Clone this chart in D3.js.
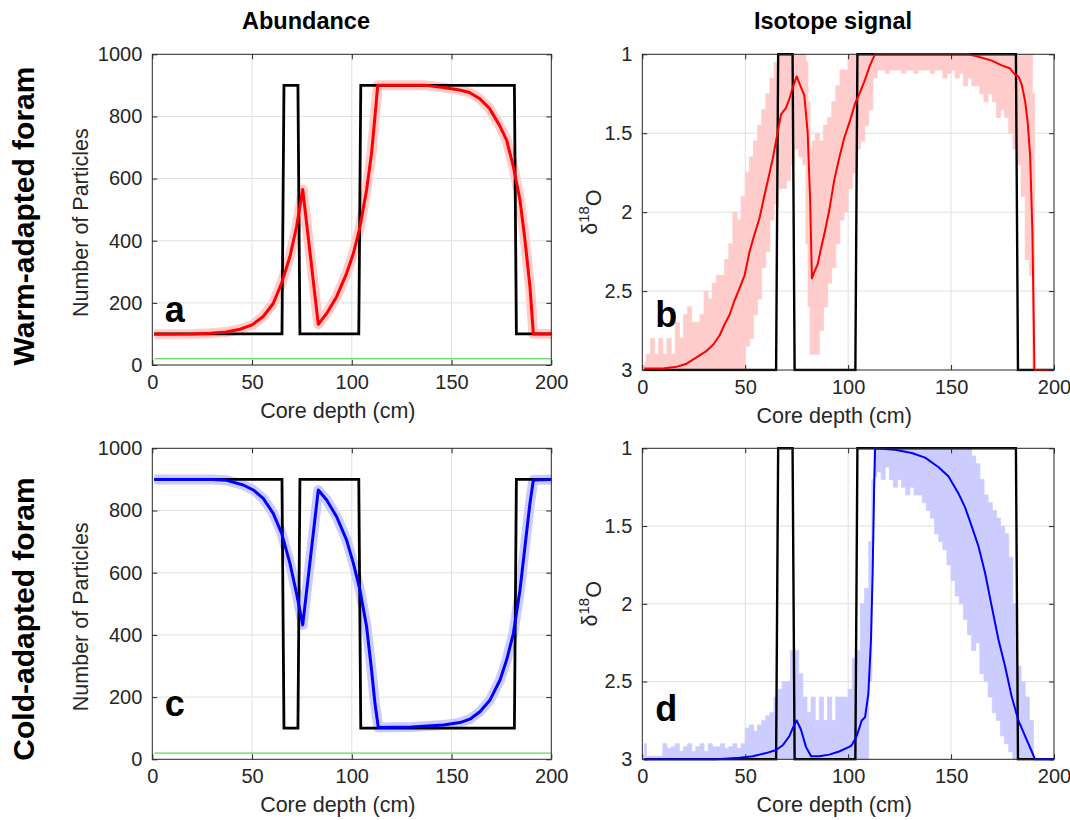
<!DOCTYPE html>
<html><head><meta charset="utf-8">
<script src="https://cdn.jsdelivr.net/npm/d3@7"></script>
<style>
body{margin:0;background:#fff}
svg{display:block;font-family:"Liberation Sans",Arial,Helvetica,sans-serif}
</style>
</head><body>
<svg id="chart" width="1070" height="820"></svg>
<script>
// ---------------- DATA ----------------
const xTicks = [0, 50, 100, 150, 200];
const abundTicks = [0, 200, 400, 600, 800, 1000];
const isoTicks = [1, 1.5, 2, 2.5, 3];
const isoTickLabels = ["1", "1.5", "2", "2.5", "3"];

// true (input) signal: step function
const stepDepth = [1, 65, 66, 73, 74, 103.5, 104.5, 181.5, 182.5, 200];
const warmStepAbund = [100, 100, 900, 900, 100, 100, 900, 900, 100, 100];
const coldStepAbund = [900, 900, 100, 100, 900, 900, 100, 100, 900, 900];
const stepIso = [3, 3, 1, 1, 3, 3, 1, 1, 3, 3];

// detection threshold line
const thresholdDepth = [1, 200];
const thresholdAbund = [20, 20];

// warm abundance (mean)
const warmAbundDepth = [1, 20, 29, 37, 44, 50, 55.6, 60.6, 64.8, 69, 72.3, 75.4, 83.2, 87.4, 92.4, 97.4, 100.8, 104.1, 107.4, 109.9, 111.6, 113, 137, 146, 154, 159, 164, 169, 174, 177.6, 181, 184.3, 186.8, 189.3, 191, 200];
const warmAbund = [99, 100, 102, 106, 115, 129, 156, 198, 263, 349, 445, 565, 131, 166, 220, 295, 359, 445, 563, 681, 799, 900, 900, 893, 885, 877, 858, 826, 772, 724, 638, 531, 402, 252, 100, 100];

// cold abundance (mean)
const coldAbundDepth = [1, 30, 37.3, 45.6, 50.6, 55.6, 60.6, 64.8, 69, 72.3, 75.4, 83.2, 87.4, 92.4, 97.4, 100.8, 104.1, 107.4, 109.9, 111.6, 113.3, 130, 145.9, 154.2, 159.2, 164.2, 169.3, 174.3, 177.6, 181, 184.3, 186.8, 189.3, 191, 200];
const coldAbund = [900, 900, 897, 882, 866, 839, 791, 727, 630, 533, 432, 866, 834, 780, 705, 630, 544, 427, 287, 180, 102, 104, 110, 118, 129, 153, 191, 255, 319, 405, 544, 684, 823, 898, 900];

// warm isotope (mean)
const warmIsoDepth = [1, 10, 16.6, 21.5, 26.3, 31.1, 34.4, 37.6, 40, 42.4, 44.8, 47.3, 49.7, 52.1, 54.5, 56.9, 59.4, 61, 63.4, 65.8, 67.4, 69.8, 71.5, 73.1, 75, 77.1, 78.7, 80.3, 81.5, 82.4, 83.5, 85.2, 86.8, 88.4, 90.8, 93.2, 95.6, 98.1, 100.9, 103.4, 105.8, 108.2, 110.6, 113, 158.4, 163.3, 169.8, 174.6, 178.7, 181.1, 182.7, 184.3, 186, 187.2, 188.4, 189.5, 190.5, 200];
const warmIso = [2.99, 2.99, 2.98, 2.96, 2.92, 2.88, 2.84, 2.78, 2.71, 2.65, 2.56, 2.48, 2.40, 2.25, 2.14, 2.04, 1.89, 1.80, 1.66, 1.49, 1.38, 1.34, 1.28, 1.21, 1.14, 1.21, 1.26, 1.49, 1.91, 2.42, 2.38, 2.33, 2.23, 2.14, 1.99, 1.80, 1.66, 1.53, 1.42, 1.31, 1.24, 1.16, 1.07, 1.0, 1.0, 1.015, 1.04, 1.07, 1.09, 1.13, 1.14, 1.19, 1.30, 1.43, 1.64, 2.12, 3.0, 3.0];

// warm isotope spread of individual picks (envelope)
const warmIsoBandDepth = [1, 3, 5, 7, 9, 11, 13, 15, 17, 19, 21, 23, 25, 27, 29, 31, 33, 35, 37, 39, 41, 43, 45, 47, 49, 51, 53, 55, 57, 59, 61, 63, 65, 67, 69, 71, 73, 75, 77, 79, 80, 81, 82, 83, 85, 87, 89, 91, 93, 95, 97, 99, 101, 103, 105, 107, 109, 111, 113, 115, 117, 119, 121, 123, 125, 127, 129, 131, 133, 135, 137, 139, 141, 143, 145, 147, 149, 151, 153, 155, 157, 159, 161, 163, 165, 167, 169, 171, 173, 175, 177, 179, 181, 183, 185, 187, 189, 190, 191, 200];
const warmIsoBandTop = [2.95, 2.9, 2.8, 2.9, 2.8, 2.9, 2.8, 2.9, 2.7, 2.8, 2.65, 2.6, 2.7, 2.7, 2.65, 2.5, 2.55, 2.45, 2.4, 2.4,
  2.3, 2.2, 2.0, 2.05, 1.9, 1.75, 1.65, 1.55, 1.45, 1.35, 1.25, 1.15, 1.05, 1.0, 1.0, 1.0, 1.0, 1.0, 1.0, 1.0,
  1.05, 1.3, 1.6, 1.55,
  1.5, 1.55, 1.45, 1.4, 1.3, 1.2, 1.1, 1.1,
  1.0, 1.0, 1.0, 1.0, 1.0, 1.0, 1.0, 1.0, 1.0, 1.0, 1.0, 1.0, 1.0, 1.0, 1.0, 1.0, 1.0, 1.0, 1.0, 1.0, 1.0, 1.0, 1.0, 1.0, 1.0, 1.0, 1.0, 1.0, 1.0, 1.0, 1.0, 1.0, 1.0, 1.0, 1.0, 1.0, 1.0, 1.0, 1.0, 1.0, 1.0, 1.0, 1.0, 1.0, 1.0,
  1.25, 3.0, 3.0];
const warmIsoBandBottom = [3, 3, 3, 3, 3, 3, 3, 3, 3, 3, 3, 3, 3, 3, 3, 3, 3, 3, 3, 3,
  3, 3, 3, 3, 3, 2.85, 2.8, 2.65, 2.55, 2.35, 2.25, 2.05, 1.95, 1.85, 1.85, 1.8, 1.7, 1.6, 1.65, 1.7,
  2.2, 2.6, 2.9, 2.9,
  2.9, 2.75, 2.6, 2.45, 2.35, 2.2, 2.05, 2.0, 1.85, 1.75, 1.6, 1.55, 1.45, 1.35,
  1.15, 1.1, 1.1, 1.12, 1.1, 1.1, 1.1, 1.12, 1.1, 1.1, 1.12, 1.1, 1.1, 1.1, 1.12, 1.1, 1.1, 1.15, 1.12, 1.1, 1.15, 1.12, 1.2, 1.15, 1.2, 1.2, 1.25, 1.3, 1.25, 1.3, 1.4, 1.35, 1.4, 1.5, 1.6, 1.7, 1.9, 2.3, 2.4,
  3.0, 3.0, 3.0];

// cold isotope (mean)
const coldIsoDepth = [1, 36, 47.3, 53.7, 60.2, 65, 68.2, 71.5, 73.4, 75, 77.1, 79.5, 82, 86, 90.8, 95.6, 100.5, 101.7, 104.2, 106.6, 108.2, 109.8, 111.1, 111.9, 112.6, 113.1, 122.8, 130.9, 137.4, 143.8, 148.7, 153.6, 156.8, 160, 163.3, 166.5, 169.8, 173, 176.2, 179.5, 182.7, 185.9, 189.2, 190.8, 200];
const coldIso = [3.0, 3.0, 2.99, 2.98, 2.96, 2.94, 2.91, 2.85, 2.79, 2.75, 2.81, 2.92, 2.98, 2.98, 2.97, 2.95, 2.92, 2.91, 2.85, 2.75, 2.73, 2.58, 2.23, 1.80, 1.27, 1.0, 1.01, 1.03, 1.06, 1.12, 1.18, 1.29, 1.38, 1.50, 1.63, 1.80, 2.02, 2.23, 2.40, 2.60, 2.75, 2.85, 2.95, 3.0, 3.0];

// cold isotope spread (envelope)
const coldIsoBandDepth = [1, 3, 5, 7, 9, 11, 13, 15, 17, 19, 21, 23, 25, 27, 29, 31, 33, 35, 37, 39, 41, 43, 45, 47, 49, 51, 53, 55, 57, 59, 61, 63, 65, 67, 69, 71, 73, 75, 77, 79, 81, 83, 85, 87, 89, 91, 93, 95, 97, 99, 101, 103, 105, 107, 109, 111, 112, 113, 115, 117, 119, 121, 123, 125, 127, 129, 131, 133, 135, 137, 139, 141, 143, 145, 147, 149, 151, 153, 155, 157, 159, 161, 163, 165, 167, 169, 171, 173, 175, 177, 179, 181, 183, 185, 187, 189, 191, 200];
const coldIsoBandTop = [2.9, 2.98, 2.98, 2.98, 2.98, 2.9, 2.93, 2.92, 2.9, 2.95, 2.92, 2.9, 2.95, 2.92, 2.9, 2.95, 2.9, 2.92, 2.92, 2.9, 2.93, 2.92, 2.9, 2.93, 2.9,
  2.8, 2.78, 2.82, 2.78, 2.75, 2.72, 2.7, 2.6, 2.55, 2.5, 2.5, 2.3, 2.3, 2.45, 2.6, 2.7, 2.6, 2.75, 2.6, 2.75, 2.6, 2.75, 2.6, 2.6, 2.6, 2.55, 2.35, 2.3, 2.0, 1.9, 1.6,
  1.2,
  1.0, 1.0, 1.0, 1.0, 1.0, 1.0, 1.0, 1.0, 1.0, 1.0, 1.0, 1.0, 1.0, 1.0, 1.0, 1.0, 1.0, 1.0, 1.0, 1.0, 1.0, 1.0, 1.0, 1.0,
  1.05, 1.1, 1.2, 1.3, 1.35, 1.4, 1.45, 1.5, 1.55, 1.7, 2.0, 2.4, 2.5, 2.6, 2.75, 3.0,
  3.0];
const coldIsoBandBottom = [3, 3, 3, 3, 3, 3, 3, 3, 3, 3, 3, 3, 3, 3, 3, 3, 3, 3, 3, 3, 3, 3, 3, 3, 3,
  3, 3, 3, 3, 3, 3, 3, 3, 3, 3, 3, 3, 3, 3, 3, 3, 3, 3, 3, 3, 3, 3, 3, 3, 3, 3, 3, 3, 3, 3, 2.5,
  1.6,
  1.18, 1.15, 1.2, 1.12, 1.2, 1.25, 1.2, 1.25, 1.3, 1.25, 1.3, 1.3, 1.35, 1.4, 1.45, 1.55, 1.6, 1.65, 1.75, 1.85, 1.95, 2.0, 2.1, 2.2,
  2.3, 2.25, 2.45, 2.5, 2.6, 2.7, 2.75, 2.85, 2.9, 2.95, 3.0, 3.0, 3.0, 3.0, 3.0, 3.0,
  3.0];

// ---------------- DRAWING ----------------
const svg = d3.select("#chart");
const INK = "#262626";

const panels = [
  {id: "a", left: 152.3, right: 551.3, top: 54.3, bottom: 365, kind: "abund",
   depth: warmAbundDepth, vals: warmAbund, step: warmStepAbund, color: "#ff0000", band: "#ffcccc"},
  {id: "b", left: 642.3, right: 1054, top: 54.3, bottom: 370, kind: "iso",
   depth: warmIsoDepth, vals: warmIso, step: stepIso, color: "#ff0000", band: "#ffcccc",
   bandDepth: warmIsoBandDepth, bandTop: warmIsoBandTop, bandBottom: warmIsoBandBottom},
  {id: "c", left: 152.3, right: 551.3, top: 448.3, bottom: 759.3, kind: "abund",
   depth: coldAbundDepth, vals: coldAbund, step: coldStepAbund, color: "#0000ff", band: "#ccccff"},
  {id: "d", left: 642.3, right: 1054, top: 448.3, bottom: 759.3, kind: "iso",
   depth: coldIsoDepth, vals: coldIso, step: stepIso, color: "#0000ff", band: "#ccccff",
   bandDepth: coldIsoBandDepth, bandTop: coldIsoBandTop, bandBottom: coldIsoBandBottom}
];

const defs = svg.append("defs");

panels.forEach(p => {
  const x = d3.scaleLinear().domain([0, 200]).range([p.left, p.right]);
  const y = p.kind === "abund"
    ? d3.scaleLinear().domain([0, 1000]).range([p.bottom, p.top])
    : d3.scaleLinear().domain([3, 1]).range([p.bottom, p.top]);
  const yt = p.kind === "abund" ? abundTicks : isoTicks;
  const g = svg.append("g");

  // grid
  g.append("g").selectAll("line").data(xTicks.slice(1, -1)).join("line")
    .attr("x1", d => x(d)).attr("x2", d => x(d)).attr("y1", p.top).attr("y2", p.bottom)
    .attr("stroke", "#e0e0e0").attr("stroke-width", 1);
  g.append("g").selectAll("line").data(yt.slice(1, -1)).join("line")
    .attr("y1", d => y(d)).attr("y2", d => y(d)).attr("x1", p.left).attr("x2", p.right)
    .attr("stroke", "#e0e0e0").attr("stroke-width", 1);

  // clip
  defs.append("clipPath").attr("id", "clip-" + p.id).append("rect")
    .attr("x", p.left - 1).attr("y", p.top - 1.5)
    .attr("width", p.right - p.left + 2).attr("height", p.bottom - p.top + 3);
  const pg = g.append("g").attr("clip-path", `url(#clip-${p.id})`);

  const line = d3.line().x(d => x(d[0])).y(d => y(d[1]));

  if (p.kind === "abund") {
    // spread of individual counts, shown as a soft band around the mean
    pg.append("path").datum(d3.zip(p.depth, p.vals))
      .attr("d", line).attr("fill", "none").attr("stroke", p.band)
      .attr("stroke-width", 10).attr("stroke-linejoin", "round").attr("stroke-linecap", "butt");
    // threshold line
    pg.append("path").datum(d3.zip(thresholdDepth, thresholdAbund))
      .attr("d", line).attr("fill", "none").attr("stroke", "#2fd62f").attr("stroke-width", 1);
  } else {
    const area = d3.area().curve(d3.curveStep)
      .x(d => x(d[0])).y0(d => y(d[2])).y1(d => y(d[1]));
    pg.append("path").datum(d3.zip(p.bandDepth, p.bandTop, p.bandBottom))
      .attr("d", area).attr("fill", p.band).attr("stroke", p.band).attr("stroke-width", 0.8);
  }

  // step (true signal)
  pg.append("path").datum(d3.zip(stepDepth, p.step))
    .attr("d", line).attr("fill", "none").attr("stroke", "#000")
    .attr("stroke-width", p.kind === "abund" ? 2.8 : 2.4).attr("stroke-linejoin", "miter");

  // mean line
  pg.append("path").datum(d3.zip(p.depth, p.vals))
    .attr("d", line).attr("fill", "none").attr("stroke", p.color)
    .attr("stroke-width", p.kind === "abund" ? 3 : 2).attr("stroke-linejoin", "round");

  // axes
  const fs = "20px";
  const ax = g.append("g").attr("transform", `translate(0,${p.bottom})`)
    .call(d3.axisBottom(x).tickValues(xTicks).tickSizeInner(-5).tickSizeOuter(0).tickPadding(10));
  const axT = g.append("g").attr("transform", `translate(0,${p.top})`)
    .call(d3.axisTop(x).tickValues(xTicks).tickSizeInner(-5).tickSizeOuter(0).tickFormat(""));
  const ay = g.append("g").attr("transform", `translate(${p.left},0)`)
    .call(d3.axisLeft(y).tickValues(yt).tickSizeInner(-5).tickSizeOuter(0).tickPadding(10)
      .tickFormat(p.kind === "abund" ? d3.format("d") : (d, i) => isoTickLabels[i]));
  const ayR = g.append("g").attr("transform", `translate(${p.right},0)`)
    .call(d3.axisRight(y).tickValues(yt).tickSizeInner(-5).tickSizeOuter(0).tickFormat(""));
  [ax, axT, ay, ayR].forEach(a => {
    a.select(".domain").remove();
    a.selectAll("line").attr("stroke", INK);
    a.selectAll("text").attr("fill", INK).style("font-size", fs)
      .style("font-family", '"Liberation Sans",Arial,sans-serif');
  });
  g.append("rect").attr("x", p.left).attr("y", p.top)
    .attr("width", p.right - p.left).attr("height", p.bottom - p.top)
    .attr("fill", "none").attr("stroke", INK).attr("stroke-width", 1);

  // x label
  g.append("text").attr("x", (p.left + p.right) / 2 - 14).attr("y", p.bottom + 53)
    .attr("text-anchor", "middle").attr("fill", INK).style("font-size", "21.5px")
    .text("Core depth (cm)");

  // y label
  if (p.kind === "abund") {
    const cy = (p.top + p.bottom) / 2 + 13;
    g.append("text").attr("transform", `translate(88,${cy}) rotate(-90)`)
      .attr("text-anchor", "middle").attr("fill", INK).style("font-size", "21.5px")
      .text("Number of Particles");
  } else {
    const cy = (p.top + p.bottom) / 2;
    const t = g.append("text").attr("transform", `translate(597,${cy}) rotate(-90)`)
      .attr("text-anchor", "middle").attr("fill", INK).style("font-size", "21.5px");
    t.append("tspan").text("δ");
    t.append("tspan").attr("dy", "-0.55em").style("font-size", "15px").text("18");
    t.append("tspan").attr("dy", "0.55em").text("O");
  }

  // panel letter
  g.append("text").attr("x", p.left + (p.kind === "abund" ? 12.5 : 13))
    .attr("y", p.bottom - (p.id === "d" ? 38 : 43))
    .attr("fill", "#000").style("font-size", "36px").style("font-weight", "bold")
    .text(p.id);
});

// column titles
svg.append("text").attr("x", 306).attr("y", 29).attr("text-anchor", "middle")
  .style("font-size", "23.5px").style("font-weight", "bold").attr("fill", "#000").text("Abundance");
svg.append("text").attr("x", 833).attr("y", 29).attr("text-anchor", "middle")
  .style("font-size", "23.5px").style("font-weight", "bold").attr("fill", "#000").text("Isotope signal");

// row labels
svg.append("text").attr("transform", "translate(34,216) rotate(-90)").attr("text-anchor", "middle")
  .style("font-size", "30px").style("font-weight", "bold").attr("fill", "#000").text("Warm-adapted foram");
svg.append("text").attr("transform", "translate(34,619) rotate(-90)").attr("text-anchor", "middle")
  .style("font-size", "30px").style("font-weight", "bold").attr("fill", "#000").text("Cold-adapted foram");
</script>
</body></html>
